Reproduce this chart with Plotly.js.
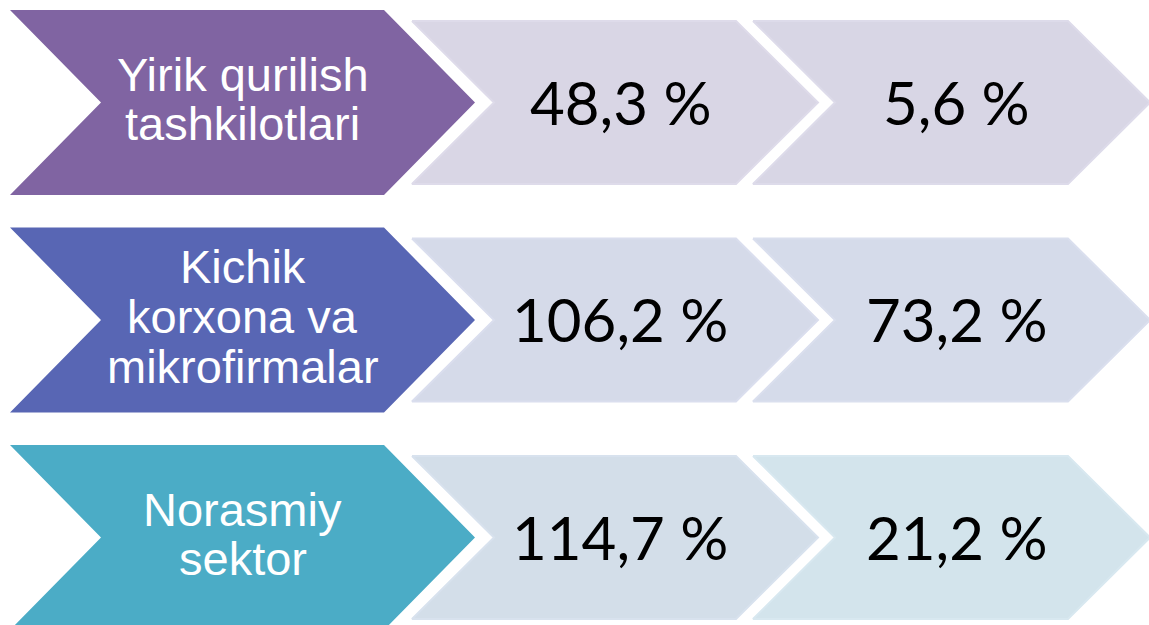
<!DOCTYPE html>
<html>
<head>
<meta charset="utf-8">
<script src="https://cdn.plot.ly/plotly-3.0.1.min.js"></script>
<style>
  html, body { margin: 0; padding: 0; background: #ffffff; }
  #chart { width: 1149px; height: 625px; }
</style>
</head>
<body>
<div id="chart"></div>
<script>
// ---- data ----
const categories = [
  ["Yirik qurilish", "tashkilotlari"],
  ["Kichik", "korxona va", "mikrofirmalar"],
  ["Norasmiy", "sektor"]
];
const valuesFirst = [48.3, 106.2, 114.7];
const valuesSecond = [5.6, 73.2, 21.2];

// ---- styles / layout constants ----
const darkColors = ["#8064A2", "#5866B4", "#4BACC6"];
const lightColors = [
  ["#D9D6E5", "#D8D6E5"],
  ["#D5DAE9", "#D5DBEA"],
  ["#D3DEE9", "#D3E4EC"]
];
const lightBorders = [
  ["#DEDBEA", "#DDDBEA"],
  ["#DADEEE", "#DADFEE"],
  ["#D8E2EE", "#D8E8F0"]
];
const W = 1149, H = 625;
const rowCenters = [102.5, 320, 537.5];
const lineSpacing = [49, 50, 49];
const cols = [
  {left: 10,  right: 475,  depth: 91, height: 185},
  {left: 412, right: 818,  depth: 82, height: 163},
  {left: 753, right: 1150, depth: 82, height: 163}
];

function chevron(c, cy) {
  const t = cy - c.height / 2, b = cy + c.height / 2;
  return {
    x: [c.left, c.right - c.depth, c.right, c.right - c.depth, c.left, c.left + c.depth, c.left],
    y: [t, t, cy, b, b, cy, t]
  };
}
function fmt(v) { return v.toFixed(1).replace(".", ",") + " %"; }

const traces = [];
const annotations = [];
categories.forEach((lines, r) => {
  const cy = rowCenters[r];
  const p0 = chevron(cols[0], cy);
  traces.push({x: p0.x, y: p0.y, mode: "lines", fill: "toself",
    fillcolor: darkColors[r], line: {color: darkColors[r], width: 0}, hoverinfo: "skip"});
  [1, 2].forEach(ci => {
    const p = chevron(cols[ci], cy);
    traces.push({x: p.x, y: p.y, mode: "lines", fill: "toself",
      fillcolor: lightColors[r][ci - 1], line: {color: lightBorders[r][ci - 1], width: 2}, hoverinfo: "skip"});
  });
  const spacing = lineSpacing[r];
  lines.forEach((ln, i) => {
    annotations.push({
      x: (cols[0].left + cols[0].right) / 2,
      y: cy - 4 + (i - (lines.length - 1) / 2) * spacing,
      xref: "x", yref: "y", text: ln, showarrow: false,
      xanchor: "center", yanchor: "middle",
      font: {family: "Liberation Sans, Arial, sans-serif", size: 47, color: "#ffffff"}
    });
  });
  [valuesFirst[r], valuesSecond[r]].forEach((v, k) => {
    const c = cols[k + 1];
    annotations.push({
      x: (c.left + c.right) / 2 + 5,
      y: cy - 1,
      xref: "x", yref: "y", text: fmt(v), showarrow: false,
      xanchor: "center", yanchor: "middle",
      font: {family: "Lato, Carlito, sans-serif", size: 60, color: "#000000"}
    });
  });
});

const layout = {
  width: W, height: H,
  margin: {l: 0, r: 0, t: 0, b: 0},
  paper_bgcolor: "#ffffff", plot_bgcolor: "#ffffff",
  showlegend: false,
  xaxis: {range: [0, W], visible: false, fixedrange: true},
  yaxis: {range: [H, 0], visible: false, fixedrange: true},
  annotations: annotations,
  hovermode: false
};
Plotly.newPlot("chart", traces, layout, {displayModeBar: false, staticPlot: true});
</script>
</body>
</html>
